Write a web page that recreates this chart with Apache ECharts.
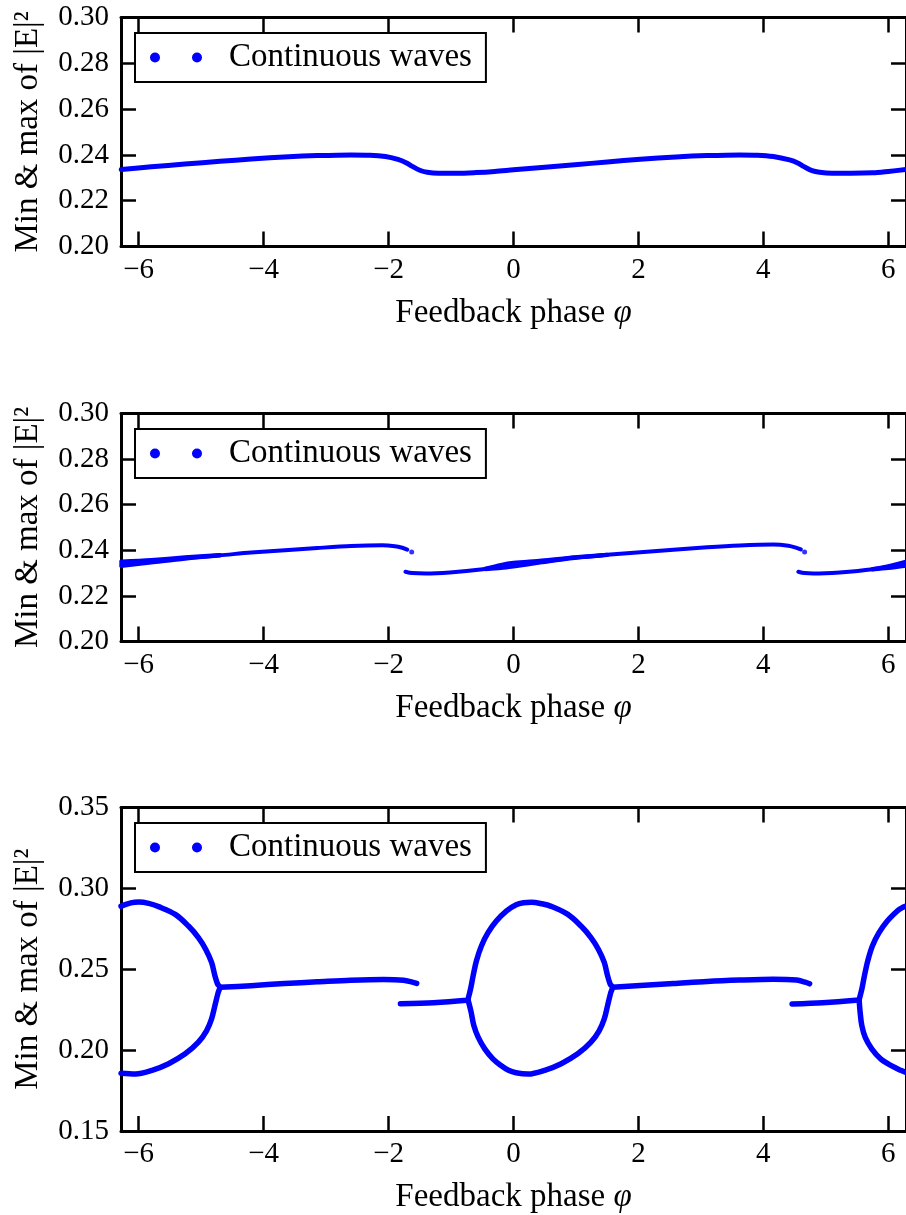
<!DOCTYPE html>
<html>
<head>
<meta charset="utf-8">
<script src="https://cdn.jsdelivr.net/npm/echarts@6/dist/echarts.min.js"></script>
<style>
  html, body { margin: 0; padding: 0; background: #fff; }
  #chart { width: 906px; height: 1215px; }
</style>
</head>
<body>
<div id="chart"></div>
<script>
// Feedback phase sweep: min & max of |E|^2 for three settings.
const TWO_PI = 2 * Math.PI;
const xTicks = [-6, -4, -2, 0, 2, 4, 6];
const seriesName = 'Continuous waves';

// Panel 1: single smooth branch
const p1Branch = [
  [-6.28, 0.2336], [-5.8, 0.2348], [-5.26, 0.2360], [-4.7, 0.2372], [-4.2, 0.2382],
  [-3.6, 0.2392], [-3.14, 0.2397], [-2.6, 0.2400], [-2.3, 0.2399], [-2.05, 0.2393],
  [-1.85, 0.2380], [-1.72, 0.2366], [-1.62, 0.2350], [-1.5, 0.2333], [-1.38, 0.2324],
  [-1.2, 0.2320], [-0.9, 0.2320], [-0.6, 0.2323], [-0.3, 0.2328], [0.0, 0.2335],
  [0.5, 0.2346], [0.98, 0.2357], [1.5, 0.2369], [2.03, 0.2381], [2.6, 0.2391],
  [3.1, 0.2397], [3.62, 0.2400], [3.9, 0.2399], [4.16, 0.2393], [4.42, 0.2378],
  [4.55, 0.2365], [4.65, 0.2349], [4.78, 0.2331], [4.9, 0.2324], [5.1, 0.2320],
  [5.4, 0.2320], [5.75, 0.2322], [6.0, 0.2328], [6.28, 0.2336]
];

// Panel 2: branches with a jump near -1.7 and 4.6
const p2BranchA = [
  [-6.28, 0.2341], [-5.8, 0.2352], [-5.26, 0.2366], [-4.7, 0.2378], [-4.2, 0.2390],
  [-3.6, 0.2401], [-3.14, 0.2410], [-2.6, 0.2419], [-2.1, 0.2422], [-1.9, 0.2418],
  [-1.78, 0.2411], [-1.70, 0.2403]
];
const p2BranchB = [
  [-1.73, 0.2306], [-1.62, 0.2300], [-1.4, 0.2298], [-1.02, 0.2303], [-0.49, 0.2317],
  [0.04, 0.2337], [0.5, 0.2351], [0.98, 0.2368], [1.5, 0.2380], [2.03, 0.2391],
  [2.56, 0.2402], [3.10, 0.2413], [3.62, 0.2421], [4.16, 0.2425], [4.40, 0.2420],
  [4.52, 0.2412], [4.60, 0.2404]
];
const p2BranchC = [
  [4.56, 0.2306], [4.66, 0.2300], [4.80, 0.2298], [5.22, 0.2303], [5.75, 0.2317],
  [6.28, 0.2341]
];
// spread between min and max where the trace fans out
const p2SpreadLeftHigh = [[-6.28, 0.2351], [-5.8, 0.2358], [-5.26, 0.2369], [-4.7, 0.2379]];
const p2SpreadLeftLow = [[-6.28, 0.2331], [-5.8, 0.2346], [-5.26, 0.2363], [-4.7, 0.2377]];
const p2SpreadMidHigh = [[-0.45, 0.2319], [-0.2, 0.2336], [0.0, 0.2345], [0.45, 0.2355], [0.98, 0.2370], [1.5, 0.2381]];
const p2SpreadMidLow = [[-0.45, 0.2317], [-0.2, 0.2322], [0.0, 0.2329], [0.45, 0.2347], [0.98, 0.2366], [1.5, 0.2379]];
const p2SpreadRightHigh = [[5.75, 0.2318], [6.0, 0.2330], [6.28, 0.2350]];
const p2SpreadRightLow = [[5.75, 0.2316], [6.0, 0.2322], [6.28, 0.2332]];
const p2EndDots = [[-1.63, 0.2392], [4.66, 0.2392]];

// Panel 3: bubbles (min/max loops) joined by flat branches
const p3LoopLeft = [
  [-6.283, 0.2890], [-6.125, 0.2910], [-5.998, 0.2915], [-5.84, 0.2907],
  [-5.68, 0.2887], [-5.415, 0.2839], [-5.203, 0.2767], [-5.044, 0.2696], [-4.928, 0.2624],
  [-4.833, 0.2542], [-4.780, 0.2460], [-4.737, 0.2408], [-4.700, 0.2388],
  [-4.727, 0.2357], [-4.780, 0.2275], [-4.833, 0.2193], [-4.912, 0.2121], [-5.044, 0.2049],
  [-5.256, 0.1977], [-5.521, 0.1916], [-5.787, 0.1875], [-6.051, 0.1852], [-6.283, 0.1857]
];
const p3FlatA = [
  [-4.70, 0.2388], [-4.2, 0.2398], [-3.67, 0.2412], [-3.14, 0.2422], [-2.61, 0.2432],
  [-2.08, 0.2437], [-1.76, 0.2432], [-1.62, 0.2420], [-1.55, 0.2412]
];
const p3FlatB = [
  [-1.81, 0.2287], [-1.28, 0.2293], [-0.75, 0.2308], [-0.73, 0.2312]
];
const p3LoopMid = [
  [-0.730, 0.2312], [-0.688, 0.2377], [-0.646, 0.2460], [-0.593, 0.2552], [-0.514, 0.2644],
  [-0.408, 0.2726], [-0.275, 0.2798], [-0.116, 0.2860], [0.043, 0.2899], [0.160, 0.2911],
  [0.286, 0.2914], [0.45, 0.2905], [0.604, 0.2889], [0.870, 0.2839], [1.081, 0.2767],
  [1.240, 0.2696], [1.358, 0.2624], [1.453, 0.2542], [1.506, 0.2460], [1.548, 0.2408],
  [1.585, 0.2388],
  [1.558, 0.2357], [1.506, 0.2275], [1.453, 0.2193], [1.373, 0.2121], [1.240, 0.2049],
  [1.028, 0.1977], [0.763, 0.1916], [0.499, 0.1875], [0.234, 0.1852], [0.040, 0.1860],
  [-0.080, 0.1875], [-0.200, 0.1905], [-0.330, 0.1946], [-0.460, 0.2008], [-0.566, 0.2080],
  [-0.635, 0.2152], [-0.678, 0.2234], [-0.710, 0.2285], [-0.730, 0.2312]
];
const p3FlatC = [
  [1.585, 0.2388], [2.03, 0.2400], [2.56, 0.2412], [3.10, 0.2425], [3.62, 0.2433],
  [4.16, 0.2438], [4.53, 0.2433], [4.67, 0.2420], [4.74, 0.2410]
];
const p3FlatD = [
  [4.46, 0.2285], [4.95, 0.2293], [5.48, 0.2308], [5.533, 0.2312]
];
const p3LoopRightUpper = [
  [5.533, 0.2312], [5.576, 0.2377], [5.618, 0.2460], [5.671, 0.2552], [5.745, 0.2644],
  [5.851, 0.2726], [5.984, 0.2798], [6.143, 0.2860], [6.21, 0.2878], [6.283, 0.2890]
];
const p3LoopRightLower = [
  [5.533, 0.2312], [5.549, 0.2234], [5.576, 0.2152], [5.629, 0.2080], [5.735, 0.2008],
  [5.878, 0.1946], [6.063, 0.1901], [6.20, 0.1875], [6.283, 0.1862]
];

// Panel layout: y ranges and plot boxes
const yRanges = [
  { min: 0.20, max: 0.30, interval: 0.02 },
  { min: 0.20, max: 0.30, interval: 0.02 },
  { min: 0.15, max: 0.35, interval: 0.05 }
];
const panelBoxes = [
  { top: 17.5, height: 229 },
  { top: 413.5, height: 228 },
  { top: 807.5, height: 325 }
];

const FONT = '"Liberation Serif", "DejaVu Serif", serif';
const INK = '#000';
const BLUE = '#0000ff';
const TWO_DOTS = 'path://M0,5a5,5 0 1,0 10,0a5,5 0 1,0 -10,0M42,5a5,5 0 1,0 10,0a5,5 0 1,0 -10,0';

const fmtX = v => (v < 0 ? '\u2212' + Math.abs(v) : String(v));

const grid = [], xAxis = [], yAxis = [], legend = [];
panelBoxes.forEach((b, i) => {
  grid.push({ left: 121, right: -4, top: b.top, height: b.height, containLabel: false });
  const axisLine = { show: true, onZero: false, lineStyle: { color: INK, width: 3 } };
  const axisTick = { show: true, inside: true, length: 15, lineStyle: { color: INK, width: 2.5 } };
  xAxis.push({
    gridIndex: i, type: 'value', position: 'bottom', min: -TWO_PI, max: TWO_PI,
    axisLine, axisTick: Object.assign({ customValues: xTicks }, axisTick),
    axisLabel: { customValues: xTicks, formatter: fmtX, fontFamily: FONT, fontSize: 29, color: INK, margin: 9 },
    splitLine: { show: false },
    name: 'Feedback phase {i|φ}', nameLocation: 'middle', nameGap: 50,
    nameTextStyle: { fontFamily: FONT, fontSize: 33, color: INK,
      rich: { i: { fontFamily: FONT, fontSize: 33, fontStyle: 'italic', color: INK } } }
  });
  xAxis.push({
    gridIndex: i, type: 'value', position: 'top', min: -TWO_PI, max: TWO_PI,
    axisLine, axisTick: Object.assign({ customValues: xTicks }, axisTick),
    axisLabel: { show: false }, splitLine: { show: false }
  });
  const r = yRanges[i];
  yAxis.push({
    gridIndex: i, type: 'value', position: 'left', min: r.min, max: r.max, interval: r.interval,
    axisLine, axisTick,
    axisLabel: { formatter: v => v.toFixed(2), fontFamily: FONT, fontSize: 29, color: INK, margin: 12 },
    splitLine: { show: false },
    name: 'Min & max of |E|²', nameLocation: 'middle', nameGap: 76,
    nameTextStyle: { fontFamily: FONT, fontSize: 33, color: INK }
  });
  yAxis.push({
    gridIndex: i, type: 'value', position: 'right', min: r.min, max: r.max, interval: r.interval,
    axisLine, axisTick, axisLabel: { show: false }, splitLine: { show: false }
  });
  legend.push({
    data: [{ name: seriesName, icon: TWO_DOTS }],
    left: 135, top: b.top + 15.5,
    itemWidth: 52, itemHeight: 10,
    padding: [8, 14, 8, 15],
    borderColor: INK, borderWidth: 2, borderRadius: 0,
    backgroundColor: '#fff',
    selectedMode: false,
    itemStyle: { color: BLUE, borderWidth: 0 },
    textStyle: { fontFamily: FONT, fontSize: 33, color: INK, padding: [0, 0, 0, 22] }
  });
});

function curve(panel, data, width, smooth) {
  return {
    type: 'line', name: seriesName, xAxisIndex: panel * 2, yAxisIndex: panel * 2,
    data, showSymbol: false, symbol: 'none', smooth: smooth == null ? 0.3 : smooth, silent: true,
    lineStyle: { color: BLUE, width, cap: 'round', join: 'round' },
    itemStyle: { color: BLUE }
  };
}

const series = [
  curve(0, p1Branch, 5),
  curve(1, p2BranchA, 4), curve(1, p2BranchB, 4), curve(1, p2BranchC, 4),
  curve(1, p2SpreadLeftHigh, 4), curve(1, p2SpreadLeftLow, 4),
  curve(1, p2SpreadMidHigh, 4), curve(1, p2SpreadMidLow, 4),
  curve(1, p2SpreadRightHigh, 4), curve(1, p2SpreadRightLow, 4),
  {
    type: 'scatter', name: seriesName, xAxisIndex: 2, yAxisIndex: 2, data: p2EndDots,
    symbolSize: 5, silent: true, itemStyle: { color: BLUE }
  },
  curve(2, p3LoopLeft, 5.5, 0.35), curve(2, p3FlatA, 5.5), curve(2, p3FlatB, 5.5),
  curve(2, p3LoopMid, 5.5, 0.35), curve(2, p3FlatC, 5.5), curve(2, p3FlatD, 5.5),
  curve(2, p3LoopRightUpper, 5.5, 0.35), curve(2, p3LoopRightLower, 5.5, 0.35)
];

const chart = echarts.init(document.getElementById('chart'), null, { renderer: 'canvas' });
chart.setOption({
  animation: false,
  backgroundColor: '#fff',
  grid, xAxis, yAxis, legend, series
});
</script>
</body>
</html>
